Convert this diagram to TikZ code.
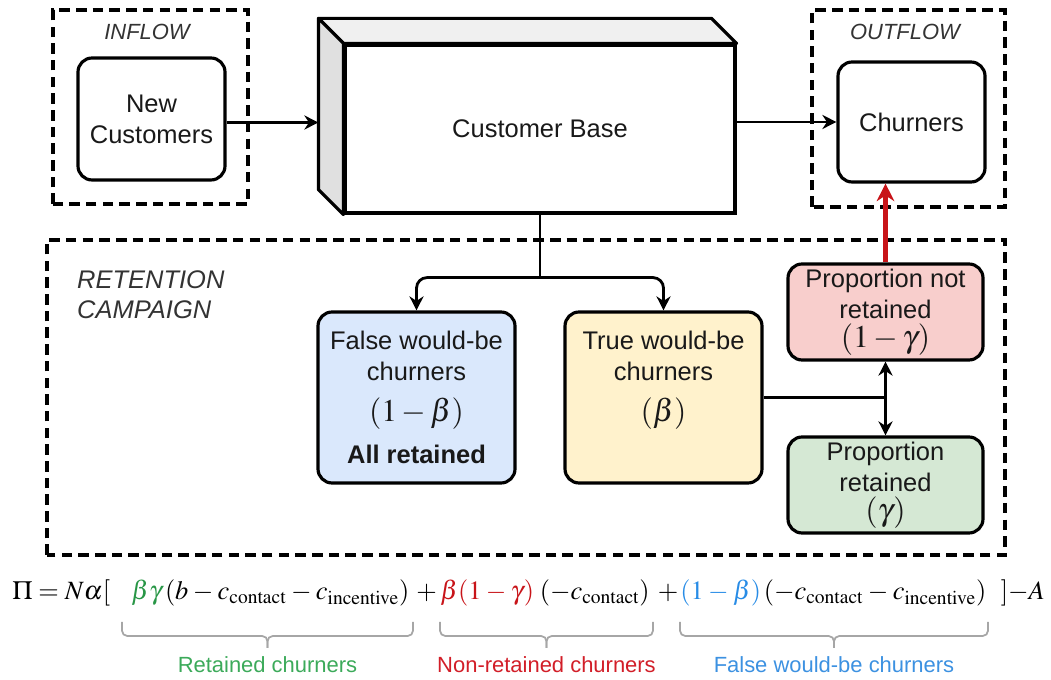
\documentclass[tikz,border=0pt]{standalone}
\usepackage{amsmath}
\usepackage{mathptmx}
\usepackage[no-math]{fontspec}
\setmainfont{Liberation Sans}
\usepackage{xcolor}
\usetikzlibrary{arrows.meta, positioning, calc}

\definecolor{fillblue}{HTML}{DAE8FC}
\definecolor{fillyellow}{HTML}{FFF2CC}
\definecolor{fillred}{HTML}{F8CECC}
\definecolor{fillgreen}{HTML}{D5E8D4}
\definecolor{termgreen}{RGB}{40,150,70}
\definecolor{termred}{RGB}{200,20,25}
\definecolor{termblue}{RGB}{40,140,230}
\definecolor{lblgreen}{RGB}{60,170,90}
\definecolor{lblred}{RGB}{210,30,40}
\definecolor{lblblue}{RGB}{60,145,225}

% larger maths inside the boxes
\newcommand{\boxmath}[1]{{\fontsize{18}{20}\selectfont$#1$}}
% tighter maths for the profit equation
\newcommand{\eqfont}{\fontsize{15}{18}\selectfont\medmuskip=3mu\relax}
\newcommand{\cc}{c_{\mathrm{contact}}}
\newcommand{\ci}{c_{\mathrm{incentive}}}
% under-brace of one term: left x, right x, colour, name, label
\newcommand{\termbrace}[5]{%
  \draw[bracket] (#1,1.16) |- ({(#1+#2)/2},0.88) -- ({(#1+#2)/2},0.64);
  \draw[bracket] (#2,1.16) |- ({(#1+#2)/2},0.88) -- ({(#1+#2)/2},0.64);
  \node[font=\fontsize{12.5}{15}\selectfont, text=#3] (#4) at ({(#1+#2)/2},0.3) {#5};}

\begin{document}
\begin{tikzpicture}[>={Stealth[length=8pt,width=8pt]},
    font=\fontsize{14.5}{17.5}\selectfont,
    box/.style={draw, line width=1.8pt, rounded corners=8pt, align=center,
      inner sep=2pt, text=black!90},
    zone/.style={draw, line width=1.9pt, dash pattern=on 6pt off 3.5pt},
    zonelabel/.style={font=\fontsize{12.5}{15}\selectfont\itshape, text=black!80},
    flow/.style={->, line width=1.6pt},
    eqpart/.style={anchor=base west, inner sep=0pt, font=\eqfont},
    bracket/.style={draw=black!35, line width=1pt, rounded corners=3pt}]
  \useasboundingbox (0,0) rectangle (21.02,13.6);

  % dashed zones
  \draw[zone] (1.06,9.52) rectangle (4.96,13.4);
  \draw[zone] (16.24,9.46) rectangle (20.1,13.4);
  \draw[zone] (0.94,2.5) rectangle (20.1,8.8);
  \node[zonelabel] (inflowlbl) at (2.94,12.96) {INFLOW};
  \node[zonelabel] (outflowlbl) at (18.1,12.96) {OUTFLOW};
  \node[zonelabel, font=\fontsize{14.5}{17}\selectfont\itshape, anchor=west, align=left]
    (campaignlbl) at (1.42,7.7) {RETENTION\\CAMPAIGN};

  % inflow / outflow
  \node[box, minimum width=2.94cm, minimum height=2.44cm] (newcust) at (3.03,11.22)
    {New\\Customers};
  \node[box, minimum width=2.94cm, minimum height=2.4cm] (churners) at (18.23,11.16)
    {Churners};

  % customer base as a block (front face, then top and side)
  \node[draw, line width=1.8pt, minimum width=7.8cm, minimum height=3.36cm,
    text=black!90] (base) at (10.8,11.02) {Customer Base};
  \filldraw[fill=black!6, line width=1.8pt, line join=round]
    (base.north west) -- ++(-0.5,0.5) -- ($(base.north east)+(-0.5,0.5)$)
    -- (base.north east) -- cycle;
  \filldraw[fill=black!12, line width=1.8pt, line join=round]
    (base.north west) -- ++(-0.5,0.5) -- ($(base.south west)+(-0.5,0.5)$)
    -- (base.south west) -- cycle;
  \coordinate (baseback) at ($(base.west)+(-0.5,0)$);

  % campaign groups
  \node[box, fill=fillblue, minimum width=3.94cm, minimum height=3.42cm] (falsewb)
    at (8.33,5.65) {False would-be\\churners\\[6pt]\boxmath{(1-\beta)}\\[6pt]\textbf{All retained}};
  \node[box, fill=fillyellow, minimum width=3.94cm, minimum height=3.42cm] (truewb)
    at (13.27,5.65) {True would-be\\churners\\[6pt]\boxmath{(\beta)}\\[6pt]\phantom{\textbf{All retained}}};
  \node[box, fill=fillred, minimum width=3.9cm, minimum height=1.92cm] (notret)
    at (17.71,7.36) {Proportion not\\retained\\[-1pt]\boxmath{(1-\gamma)}};
  \node[box, fill=fillgreen, minimum width=3.9cm, minimum height=1.92cm] (retained)
    at (17.71,3.9) {Proportion\\retained\\[-1pt]\boxmath{(\gamma)}};

  % flows
  \draw[flow] ([yshift=-2pt]newcust.east) -- ([yshift=-2pt]newcust.east -| baseback);
  \draw[flow] (churners.west -| base.east) -- (churners.west);
  \coordinate (split) at ($(base.south)+(0,-1.26)$);
  \draw[line width=1.6pt] (base.south) -- (split);
  \draw[flow, rounded corners=6pt] (split) -| (falsewb.north);
  \draw[flow, rounded corners=6pt] (split) -| (truewb.north);
  \coordinate (fork) at (truewb.east -| notret.south);
  \draw[line width=2.2pt] (truewb.east) -- (fork);
  \draw[flow] (fork) -- (notret.south);
  \draw[flow] (fork) -- (retained.north);
  \draw[->, line width=2.4pt, draw=termred, >={Stealth[length=10pt,width=10pt]}]
    (notret.north) -- (notret.north |- churners.south);

  % profit equation, one part per term
  \node[eqpart] (eqlead) at (0.24,1.6) {$\Pi = N\alpha[$};
  \node[eqpart] (eqret) at (2.62,1.6)
    {$\color{termgreen}\beta\gamma\color{black}\,(b - \cc - \ci)$};
  \node[eqpart, anchor=base] (eqplusa) at (8.53,1.6) {$+$};
  \node[eqpart] (eqnon) at (8.8,1.6)
    {$\color{termred}\beta(1-\gamma)\color{black}\;(-\cc)$};
  \node[eqpart, anchor=base] (eqplusb) at (13.36,1.6) {$+$};
  \node[eqpart] (eqfalse) at (13.6,1.6)
    {$\color{termblue}(1-\beta)\color{black}\,(-\cc - \ci)$};
  \node[eqpart, anchor=base east] (eqtail) at (20.9,1.6) {$]{-}A$};
  \termbrace{2.44}{8.26}{lblgreen}{retlbl}{Retained churners}
  \termbrace{8.8}{13.06}{lblred}{nonretlbl}{Non-retained churners}
  \termbrace{13.6}{19.76}{lblblue}{falselbl}{False would-be churners}
\end{tikzpicture}
\end{document}
